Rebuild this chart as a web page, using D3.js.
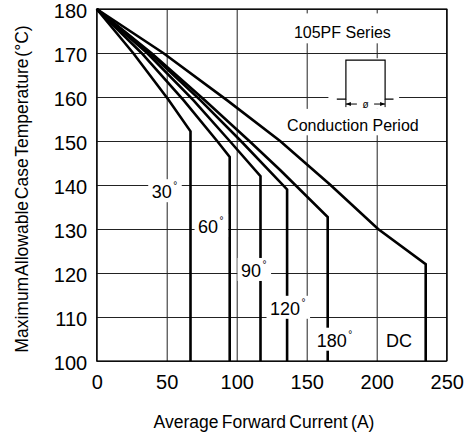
<!DOCTYPE html>
<html>
<head>
<meta charset="utf-8">
<script src="https://cdn.jsdelivr.net/npm/d3@7/dist/d3.min.js"></script>
<style>
  html, body { margin: 0; padding: 0; background: #fff; }
  svg { display: block; }
  text { font-family: "Liberation Sans", Arial, Helvetica, sans-serif; fill: #000; }
</style>
</head>
<body>
<svg id="chart" width="469" height="435"></svg>
<script>
// ---------------- data ----------------
const xTicks = [0, 50, 100, 150, 200, 250];
const yTicks = [100, 110, 120, 130, 140, 150, 160, 170, 180];
const seriesNames = ["30", "60", "90", "120", "180", "DC"];
// [average forward current (A), max case temperature (°C)]
const curve30  = [[0,180],[26,170],[51,159.5],[67,152.2],[67,100]];
const curve60  = [[0,180],[32,170],[62,159.3],[86,150],[95,146.4],[95,100]];
const curve90  = [[0,180],[36,170],[69,159.3],[95,150],[117,142],[117,100]];
const curve120 = [[0,180],[38,170],[74,159.3],[103,150],[136,139],[136,100]];
const curve180 = [[0,180],[39,170],[77,159.3],[109,150],[131,143.4],[165,132.7],[165,100]];
const curveDC  = [[0,180],[47.5,170],[93,159.3],[131,150],[167,140],[201,130],[235,122],[235,100]];
const curves = [curve30, curve60, curve90, curve120, curve180, curveDC];

// ---------------- layout ----------------
const W = 469, H = 435;
const M = { left: 96.7, right: 22.3, top: 9, bottom: 74 };
const svg = d3.select("#chart");
const x = d3.scaleLinear().domain([0, 250]).range([M.left, W - M.right]);
const y = d3.scaleLinear().domain([100, 180]).range([H - M.bottom, M.top]);
const pw = W - M.left - M.right, ph = H - M.top - M.bottom;

// grid + tick labels via axes
const gx = svg.append("g").attr("transform", `translate(0,${H - M.bottom})`)
  .call(d3.axisBottom(x).tickValues(xTicks).tickSize(-ph).tickPadding(14).tickFormat(d3.format("d")));
const gy = svg.append("g").attr("transform", `translate(${M.left},0)`)
  .call(d3.axisLeft(y).tickValues(yTicks).tickSize(-pw).tickPadding(9.5).tickFormat(d3.format("d")));
[gx, gy].forEach(g => {
  g.select(".domain").remove();
  g.selectAll(".tick line").attr("stroke", "#222").attr("stroke-width", 1);
  g.selectAll(".tick text").attr("font-size", 20).attr("font-family", "Liberation Sans, Arial, sans-serif").attr("fill", "#000");
});
gy.selectAll(".tick text").attr("dy", "0.42em");

// frame
svg.append("rect").attr("x", M.left).attr("y", M.top).attr("width", pw).attr("height", ph)
  .attr("fill", "none").attr("stroke", "#000").attr("stroke-width", 1.2);

// annotation backgrounds (cover grid)
const ann = svg.append("g");
ann.append("rect").attr("x", x(138)).attr("y", y(179)).attr("width", x(214) - x(138)).attr("height", y(172.2) - y(179)).attr("fill", "#fff");
ann.append("rect").attr("x", x(165.5)).attr("y", y(168.8)).attr("width", x(216) - x(165.5)).attr("height", y(157.3) - y(168.8)).attr("fill", "#fff");
ann.append("rect").attr("x", x(133)).attr("y", y(157.3)).attr("width", x(233) - x(133)).attr("height", y(151.3) - y(157.3)).attr("fill", "#fff");

ann.append("text").attr("x", x(175.5)).attr("y", y(173.5)).attr("text-anchor", "middle").attr("font-size", 16).text("105PF Series");
ann.append("text").attr("x", x(183)).attr("y", y(152.2)).attr("text-anchor", "middle").attr("font-size", 16).text("Conduction Period");

// pulse symbol
const pBase = y(159.5), pTop = y(168.4), pL = x(178), pR = x(206);
ann.append("path").attr("fill", "none").attr("stroke", "#000").attr("stroke-width", 1.2)
  .attr("d", `M${x(171.5)},${pBase}H${pL}V${pTop}H${pR}V${pBase}H${x(212)}`);
ann.append("path").attr("fill", "none").attr("stroke", "#000").attr("stroke-width", 1)
  .attr("d", `M${pL},${pBase}V${y(157.7)}M${pR},${pBase}V${y(157.7)}`);
const ay = y(158.4);
ann.append("path").attr("fill", "none").attr("stroke", "#000").attr("stroke-width", 1)
  .attr("d", `M${pL},${ay}H${pL + 11}M${pR - 11},${ay}H${pR}`);
ann.append("path").attr("fill", "#000")
  .attr("d", `M${pL},${ay}l5,-2v4zM${pR},${ay}l-5,-2v4z`);
ann.append("text").attr("x", (pL + pR) / 2).attr("y", ay + 3.5).attr("text-anchor", "middle").attr("font-size", 10).text("ø");

// curves
const line = d3.line().x(d => x(d[0])).y(d => y(d[1]));
svg.append("g").selectAll("path").data(curves).join("path")
  .attr("d", line).attr("fill", "none").attr("stroke", "#000")
  .attr("stroke-width", 2.6).attr("stroke-linejoin", "miter");

// conduction-angle labels with white boxes
const labelPos = [[39.3,137.0],[72.4,129.1],[103.1,119.1],[123.8,110.5],[157.1,103.25],[206.6,103.25]];
const lg = svg.append("g");
seriesNames.forEach((name, i) => {
  const g = lg.append("g");
  const r = g.append("rect").attr("fill", "#fff");
  const t = g.append("text").attr("x", x(labelPos[i][0])).attr("y", y(labelPos[i][1])).attr("font-size", 18);
  t.append("tspan").text(name);
  if (name !== "DC") t.append("tspan").attr("font-size", 10).attr("dx", 1.5).attr("dy", -9).text("°");
  const b = t.node().getBBox();
  r.attr("x", b.x - 3.5).attr("y", b.y - 1).attr("width", b.width + 8).attr("height", b.height + 1);
});

// axis titles
svg.append("text").attr("x", 264).attr("y", 428).attr("text-anchor", "middle")
  .attr("font-size", 17.5).attr("word-spacing", -1.5).text("Average Forward Current (A)");
svg.append("text").attr("transform", `translate(28,${(M.top + H - M.bottom) / 2 + 4}) rotate(-90)`)
  .attr("text-anchor", "middle").attr("font-size", 17.5).attr("word-spacing", -3)
  .text("Maximum Allowable Case Temperature (°C)");
</script>
</body>
</html>
